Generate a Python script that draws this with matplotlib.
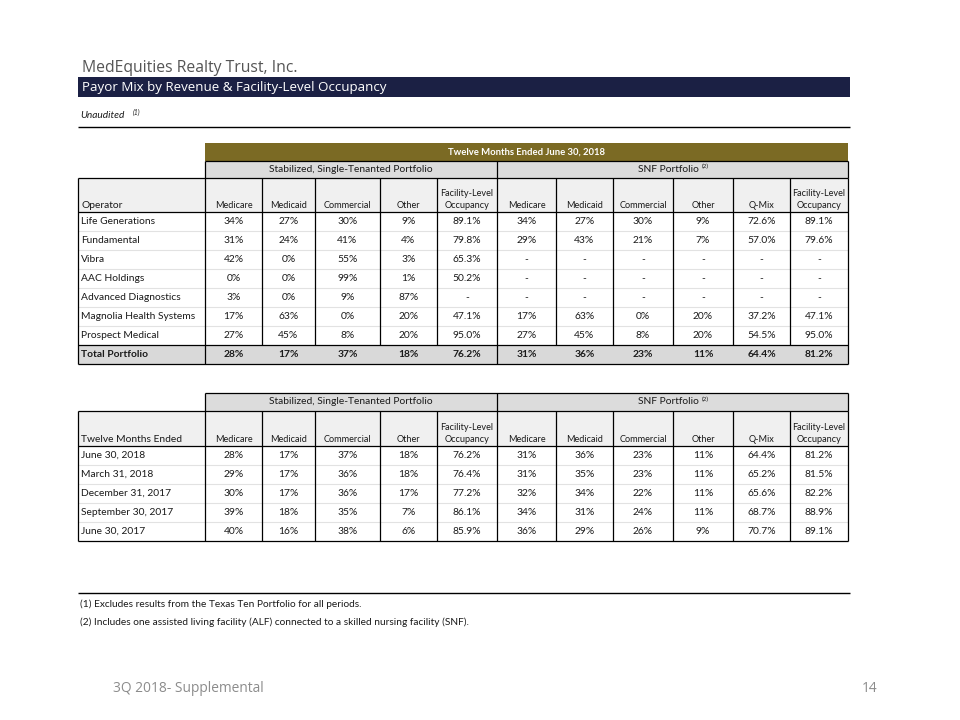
import matplotlib
matplotlib.use("Agg")
import matplotlib.pyplot as plt
from matplotlib.patches import Rectangle

# ---------------- data ----------------
title = "MedEquities Realty Trust, Inc."
subtitle = "Payor Mix by Revenue & Facility-Level Occupancy"
period_label = "Twelve Months Ended June 30, 2018"
group_labels = ["Stabilized, Single-Tenanted Portfolio", "SNF Portfolio"]
stab_cols = ["Medicare", "Medicaid", "Commercial", "Other", "Facility-Level\nOccupancy"]
snf_cols = ["Medicare", "Medicaid", "Commercial", "Other", "Q-Mix", "Facility-Level\nOccupancy"]

operators = ["Life Generations", "Fundamental", "Vibra", "AAC Holdings",
             "Advanced Diagnostics", "Magnolia Health Systems", "Prospect Medical"]
stab_medicare = [34, 31, 42, 0, 3, 17, 27]
stab_medicaid = [27, 24, 0, 0, 0, 63, 45]
stab_commercial = [30, 41, 55, 99, 9, 0, 8]
stab_other = [9, 4, 3, 1, 87, 20, 20]
stab_occupancy = [89.1, 79.8, 65.3, 50.2, None, 47.1, 95.0]
snf_medicare = [34, 29, None, None, None, 17, 27]
snf_medicaid = [27, 43, None, None, None, 63, 45]
snf_commercial = [30, 21, None, None, None, 0, 8]
snf_other = [9, 7, None, None, None, 20, 20]
snf_qmix = [72.6, 57.0, None, None, None, 37.2, 54.5]
snf_occupancy = [89.1, 79.6, None, None, None, 47.1, 95.0]
total_label = "Total Portfolio"
total_stab = [28, 17, 37, 18, 76.2]
total_snf = [31, 36, 23, 11, 64.4, 81.2]

periods = ["June 30, 2018", "March 31, 2018", "December 31, 2017",
           "September 30, 2017", "June 30, 2017"]
p_stab_medicare = [28, 29, 30, 39, 40]
p_stab_medicaid = [17, 17, 17, 18, 16]
p_stab_commercial = [37, 36, 36, 35, 38]
p_stab_other = [18, 18, 17, 7, 6]
p_stab_occupancy = [76.2, 76.4, 77.2, 86.1, 85.9]
p_snf_medicare = [31, 31, 32, 34, 36]
p_snf_medicaid = [36, 35, 34, 31, 29]
p_snf_commercial = [23, 23, 22, 24, 26]
p_snf_other = [11, 11, 11, 11, 9]
p_snf_qmix = [64.4, 65.2, 65.6, 68.7, 70.7]
p_snf_occupancy = [81.2, 81.5, 82.2, 88.9, 89.1]

footnotes = ["(1) Excludes results from the Texas Ten Portfolio for all periods.",
             "(2) Includes one assisted living facility (ALF) connected to a skilled nursing facility (SNF)."]
footer_left = "3Q 2018- Supplemental"
footer_right = "14"

# ---------------- styling ----------------
NAVY = "#1b2044"
GOLD = "#7b6a24"
BAND = "#dcdcdc"
HEAD = "#f0f0f0"
TOTAL = "#d9d9d9"
FAINT = "#e2e2e2"
TXT = "#1a1a1a"
FONT = "Lato"
FS = 7.4
HFS = 6.6

fig = plt.figure(figsize=(9.6, 7.2), dpi=100)
ax = fig.add_axes([0, 0, 1, 1])
ax.set_xlim(0, 960)
ax.set_ylim(720, 0)
ax.axis("off")

def fmt(v, dec):
    if v is None:
        return "-"
    return f"{v:.1f}%" if dec else f"{v:.0f}%"

def hline(x0, x1, y, color="black", lw=0.9):
    ax.plot([x0, x1], [y, y], color=color, lw=lw, solid_capstyle="butt")

def vline(x, y0, y1, color="black", lw=0.9):
    ax.plot([x, x], [y0, y1], color=color, lw=lw, solid_capstyle="butt")

def rect(x0, y0, x1, y1, color):
    ax.add_patch(Rectangle((x0, y0), x1 - x0, y1 - y0, facecolor=color, edgecolor="none"))

# header area
ax.text(82, 68, title, fontsize=11.3, color="#555555", family="Open Sans", va="center")
rect(78, 77, 850, 97, NAVY)
ax.text(82, 87.5, subtitle, fontsize=9.6, color="white", family="Open Sans", va="center")
ax.text(80, 116, "Unaudited", fontsize=7.3, style="italic", family=FONT, va="center", color=TXT)
ax.text(133, 112.5, "(1)", fontsize=5.0, style="italic", family=FONT, va="center", color=TXT)
hline(78, 850, 127, lw=1.0)

# column geometry
left = 78
bounds = [205, 262, 315, 380, 437, 497, 556, 613, 673, 733, 790, 848]
right = bounds[-1]
mid = bounds[5]
centers = [(bounds[i] + bounds[i + 1]) / 2 for i in range(len(bounds) - 1)]
col_labels = stab_cols + snf_cols
dec_flags = [False] * 4 + [True] + [False] * 4 + [True, True]

def group_band(y0, y1):
    rect(bounds[0], y0, right, y1, BAND)
    ax.text((bounds[0] + mid) / 2, (y0 + y1) / 2, group_labels[0], fontsize=FS, family=FONT,
            ha="center", va="center", color=TXT)
    ax.text((mid + right) / 2 - 4, (y0 + y1) / 2, group_labels[1], fontsize=FS, family=FONT,
            ha="center", va="center", color=TXT)
    ax.text((mid + right) / 2 + 29, (y0 + y1) / 2 - 3, "(2)", fontsize=4.6, family=FONT,
            ha="left", va="center", color=TXT)
    hline(bounds[0], right, y0)
    vline(bounds[0], y0, y1)
    vline(mid, y0, y1)
    vline(right, y0, y1)

def header_row(y0, y1, first_label):
    rect(left, y0, right, y1, HEAD)
    ax.text(left + 3, y1 - 6.5, first_label, fontsize=FS, family=FONT, ha="left",
            va="center", color=TXT)
    for c, lab in zip(centers, col_labels):
        if "\n" in lab:
            a, b = lab.split("\n")
            ax.text(c, y1 - 18.5, a, fontsize=HFS, family=FONT, ha="center", va="center", color=TXT)
            ax.text(c, y1 - 6.5, b, fontsize=HFS, family=FONT, ha="center", va="center", color=TXT)
        else:
            ax.text(c, y1 - 6.5, lab, fontsize=HFS, family=FONT, ha="center", va="center", color=TXT)
    hline(left, right, y0)
    hline(left, right, y1)

def body(y0, names, cols, rowh=19.0):
    n = len(names)
    for i, name in enumerate(names):
        yc = y0 + rowh * (i + 0.5)
        ax.text(left + 3, yc, name, fontsize=FS, family=FONT, ha="left", va="center", color=TXT)
        for c, vals, dec in zip(centers, cols, dec_flags):
            ax.text(c, yc, fmt(vals[i], dec), fontsize=FS, family=FONT, ha="center",
                    va="center", color=TXT)
        if i > 0:
            hline(left, right, y0 + rowh * i, color=FAINT, lw=0.8)
    return y0 + rowh * n

# ---------------- table 1 ----------------
g0, g1 = 143, 160.5
rect(bounds[0], g0, right, g1, GOLD)
ax.text((bounds[0] + right) / 2, (g0 + g1) / 2, period_label, fontsize=6.8, family=FONT,
        weight="bold", color="white", ha="center", va="center")
group_band(g1, 178)
header_row(178, 212, "Operator")
cols1 = [stab_medicare, stab_medicaid, stab_commercial, stab_other, stab_occupancy,
         snf_medicare, snf_medicaid, snf_commercial, snf_other, snf_qmix, snf_occupancy]
yb = body(212, operators, cols1)
# total row
ty1 = yb + 19
rect(left, yb, right, ty1, TOTAL)
ax.text(left + 3, (yb + ty1) / 2, total_label, fontsize=FS, family=FONT, weight="bold",
        ha="left", va="center", color=TXT)
for c, v, dec in zip(centers, total_stab + total_snf, dec_flags):
    ax.text(c, (yb + ty1) / 2, fmt(v, dec), fontsize=FS, family=FONT, weight="bold",
            ha="center", va="center", color=TXT)
hline(left, right, yb)
hline(left, right, ty1)
for x in bounds[1:-1]:
    if x != mid:
        vline(x, 178, yb)
for x in [left, bounds[0], mid, right]:
    vline(x, 178, ty1)

# ---------------- table 2 ----------------
group_band(393, 411)
header_row(411, 446, "Twelve Months Ended")
cols2 = [p_stab_medicare, p_stab_medicaid, p_stab_commercial, p_stab_other, p_stab_occupancy,
         p_snf_medicare, p_snf_medicaid, p_snf_commercial, p_snf_other, p_snf_qmix, p_snf_occupancy]
yb2 = body(446, periods, cols2)
hline(left, right, yb2)
for x in [left] + bounds:
    vline(x, 411, yb2)

# ---------------- footnotes ----------------
hline(78, 850, 593, lw=1.0)
for i, fn in enumerate(footnotes):
    ax.text(80, 604 + 18 * i, fn, fontsize=7.3, family=FONT, ha="left", va="center", color=TXT)
ax.text(113, 688, footer_left, fontsize=9.9, family="Open Sans", color="#8c8c8c", va="center")
ax.text(862, 688, footer_right, fontsize=9.9, family="Open Sans", color="#8c8c8c", va="center")

fig.savefig("out.png", dpi=100, facecolor="white")
